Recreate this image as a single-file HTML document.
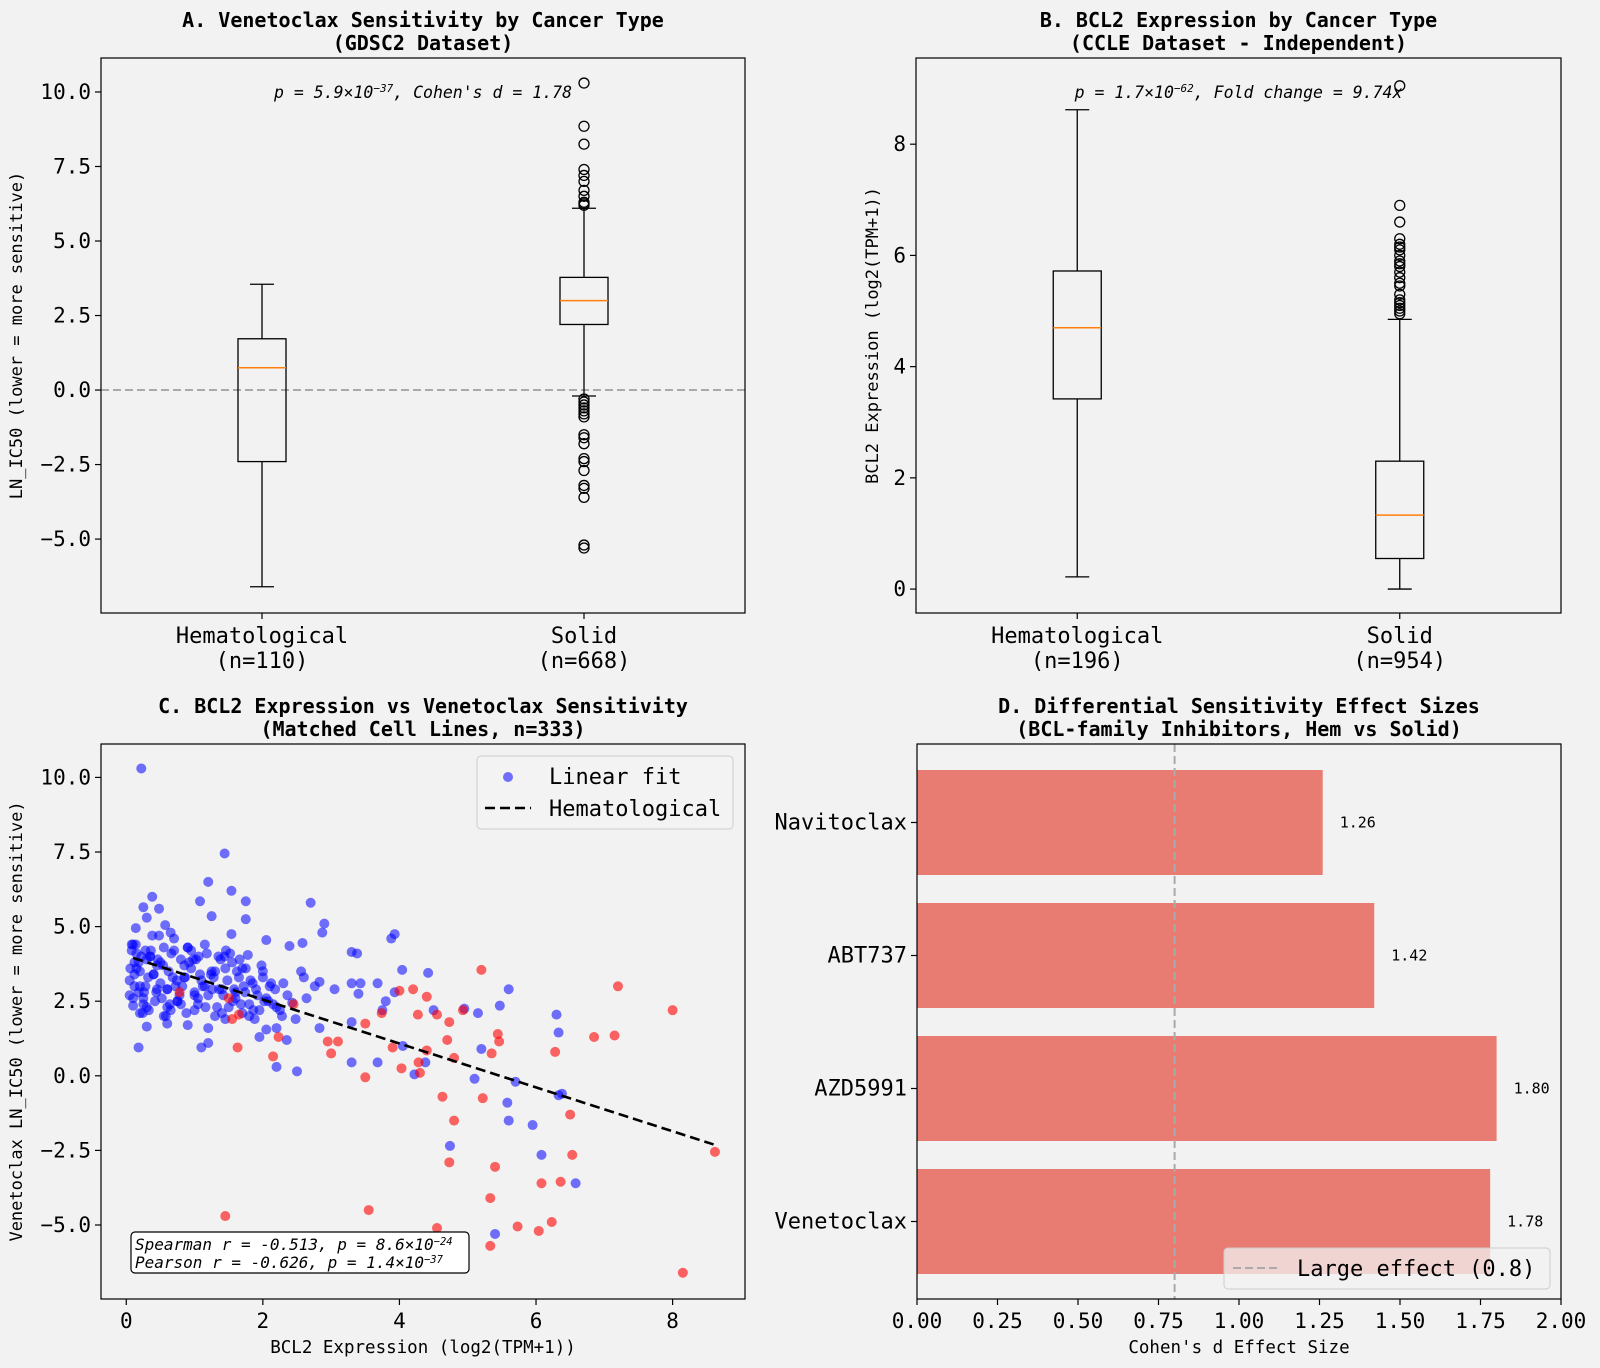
<!DOCTYPE html>
<html><head><meta charset="utf-8">
<style>
html,body{margin:0;padding:0;background:#f2f2f2;}
svg{display:block;font-family:"DejaVu Sans Mono","Liberation Mono",monospace;}
</style></head>
<body>
<svg id="fig" width="1600" height="1368" viewBox="0 0 1600 1368" xmlns="http://www.w3.org/2000/svg">
<rect width="1600" height="1368" fill="#f2f2f2"/>
<g id="pA"></g>
<g id="pB"></g>
<g id="pC"></g>
<g id="pD"></g>
</svg>
<script>
// ---------- DATA ----------
const boxCatsA = ["Hematological", "Solid"];
const boxNA = ["(n=110)", "(n=668)"];
const boxStatsA = [[-6.6, -2.4, 0.75, 1.72, 3.55], [-0.2, 2.2, 3.0, 3.78, 6.1]];
const outliersA = [[], [6.2, 6.25, 6.3, 6.5, 6.7, 7.0, 7.2, 7.4, 8.25, 8.85, 10.3, -0.3, -0.4, -0.5, -0.6, -0.7, -0.8, -0.9, -1.5, -1.6, -1.8, -2.3, -2.4, -2.7, -3.2, -3.3, -3.6, -5.2, -5.3]];
const yTicksA = [-5.0, -2.5, 0.0, 2.5, 5.0, 7.5, 10.0];

const boxCatsB = ["Hematological", "Solid"];
const boxNB = ["(n=196)", "(n=954)"];
const boxStatsB = [[0.22, 3.42, 4.7, 5.72, 8.62], [0.0, 0.55, 1.33, 2.3, 4.85]];
const outliersB = [[], [4.95, 5.0, 5.05, 5.1, 5.15, 5.2, 5.3, 5.45, 5.5, 5.6, 5.7, 5.8, 5.85, 5.9, 6.0, 6.1, 6.15, 6.2, 6.3, 6.6, 6.9, 9.05]];
const yTicksB = [0, 2, 4, 6, 8];

const blueX = [0.22,1.44,1.2,1.54,0.38,1.08,1.75,2.7,0.25,0.48,1.25,0.3,1.75,2.9,0.14,0.57,2.87,3.93,3.88,1.54,2.05,2.39,2.58,0.38,1.78,3.3,3.38,4.04,4.42,2.6,2.83,3.3,3.43,3.68,3.05,3.4,3.93,3.8,3.75,4.5,4.95,5.15,5.47,5.6,6.3,6.33,5.2,5.7,5.1,5.58,5.6,5.95,6.38,6.33,4.74,6.08,6.58,5.4,4.38,4.22,4.05,3.68,3.3,3.3,2.83,2.5,2.2,2.35,2.2,2.05,1.95,1.2,1.1,0.18,0.3,0.9,1.2,0.6,2.48,2.43,2.25,
0.05,0.08,0.1,0.12,0.15,0.18,0.2,0.22,0.25,0.28,0.3,0.33,0.35,0.4,0.42,0.45,0.5,0.52,0.55,0.6,0.62,0.65,0.7,0.72,0.75,0.8,0.85,0.88,0.9,0.95,1.0,1.02,1.05,1.1,1.15,1.2,1.25,1.3,1.35,1.4,1.45,1.5,1.55,1.6,1.65,1.7,1.75,1.8,1.85,1.9,1.95,2.0,2.05,2.1,2.15,0.1,0.15,0.2,0.3,0.35,0.45,0.5,0.55,0.65,0.7,0.78,0.82,0.9,0.98,1.05,1.12,1.18,1.28,1.33,1.38,1.42,1.48,1.52,1.58,1.62,1.68,1.72,1.82,1.88,1.92,2.02,2.12,2.2,2.3,0.08,0.12,0.18,0.25,0.4,0.48,0.58,0.68,0.75,0.85,0.95,1.0,1.15,1.3,1.45,1.6,1.8,2.0,0.05,0.28,0.6,1.08,1.4,
0.06,0.1,0.14,0.2,0.24,0.32,0.36,0.44,0.54,0.6,0.66,0.74,0.8,0.92,1.0,1.06,1.16,1.24,1.36,1.44,1.56,1.66,1.74,1.86,1.98,2.08,2.18,2.28,2.36,2.56,2.64,2.76,0.12,0.26,0.46,0.64,0.86,1.26,1.46,1.7];
const blueY = [10.3,7.45,6.5,6.2,6.0,5.85,5.85,5.8,5.65,5.6,5.35,5.3,5.25,5.1,4.95,5.05,4.8,4.75,4.6,4.75,4.55,4.35,4.45,4.7,4.05,4.15,4.1,3.55,3.45,3.3,3.15,3.1,3.1,3.1,2.9,2.75,2.8,2.5,2.2,2.2,2.25,2.1,2.35,2.9,2.05,1.45,0.9,-0.2,-0.1,-0.9,-1.5,-1.65,-0.6,-0.65,-2.35,-2.65,-3.6,-5.3,0.45,0.05,1.0,0.45,0.45,1.8,1.6,0.15,0.3,1.2,1.6,1.55,1.3,1.1,0.95,0.95,1.65,1.7,1.6,1.75,1.9,2.45,2.2,
3.2,4.2,2.35,3.8,4.1,2.8,3.5,4.0,2.4,3.0,3.9,2.2,4.0,3.4,2.5,3.7,3.1,2.6,4.3,2.9,3.5,2.2,4.6,3.0,2.5,3.9,3.3,2.1,4.3,3.6,2.8,3.9,2.4,3.2,4.4,2.7,3.5,2.0,4.0,2.9,3.6,2.3,3.8,2.6,3.3,2.1,3.6,2.4,3.1,2.9,2.2,3.5,2.6,3.0,2.4,4.4,3.6,2.1,2.3,4.0,2.9,3.8,2.0,4.8,4.2,2.7,3.0,4.3,3.9,2.6,3.0,4.1,3.3,2.3,3.9,2.7,3.2,4.1,2.9,3.5,2.4,3.0,3.2,1.9,2.7,2.5,3.1,2.3,3.1,4.4,3.0,3.8,2.6,3.4,4.7,2.0,3.3,2.5,3.7,4.2,2.2,3.0,3.5,1.9,2.8,2.0,3.3,2.7,4.2,2.9,3.4,2.1,
3.6,2.6,4.4,3.0,2.1,3.3,4.2,2.8,3.7,2.3,4.1,3.2,2.4,3.8,2.7,4.0,2.3,3.4,2.9,4.0,2.5,3.9,2.8,2.2,3.7,2.5,2.9,2.0,2.7,3.5,2.6,3.0,3.4,2.8,3.9,2.4,3.3,2.9,4.2,3.6];
const redX = [0.78,1.45,1.5,1.55,1.65,1.63,2.15,2.23,2.45,2.95,3.1,3.0,3.55,3.5,3.5,3.74,3.9,4.0,4.03,4.2,4.27,4.28,4.3,4.4,4.4,4.55,4.63,4.7,4.73,4.73,4.8,4.8,4.93,4.55,4.65,5.2,5.22,5.33,5.33,5.35,5.4,5.44,5.46,5.73,6.04,6.08,6.23,6.28,6.36,6.5,6.53,6.85,7.15,7.2,8.0,8.15,8.62];
const redY = [2.8,-4.7,2.6,1.9,2.05,0.95,0.65,1.3,2.4,1.15,1.15,0.75,-4.5,-0.05,1.75,2.1,0.95,2.85,0.25,2.9,2.05,0.45,0.1,2.65,0.85,2.05,-0.7,1.2,1.8,-2.9,-1.5,0.6,2.2,-5.1,-6.3,3.55,-0.75,-4.1,-5.7,0.75,-3.05,1.4,1.15,-5.05,-5.2,-3.6,-4.9,0.8,-3.55,-1.3,-2.65,1.3,1.35,3.0,2.2,-6.6,-2.55];
const fitX = [0.1, 8.6];
const fitY = [3.95, -2.3];
const xTicksC = [0, 2, 4, 6, 8];
const yTicksC = [-5.0, -2.5, 0.0, 2.5, 5.0, 7.5, 10.0];

const drugs = ["Navitoclax", "ABT737", "AZD5991", "Venetoclax"];
const effect = [1.26, 1.42, 1.80, 1.78];
const xTicksD = [0.00, 0.25, 0.50, 0.75, 1.00, 1.25, 1.50, 1.75, 2.00];
const largeEffect = 0.8;

// ---------- HELPERS ----------
const NS = "http://www.w3.org/2000/svg";
function mk(parent, tag, attrs, text) {
  const e = document.createElementNS(NS, tag);
  for (const k in attrs) e.setAttribute(k, attrs[k]);
  if (text !== undefined) e.textContent = text;
  parent.appendChild(e);
  return e;
}
function lin(d0, d1, r0, r1) { return v => r0 + (v - d0) * (r1 - r0) / (d1 - d0); }
const TF = 20;

// ---------- BOX PANELS ----------
function boxPanel(g, L, R, T, B, ymin, ymax, cats, ns, stats, outs, ticks, fmt, title1, title2, ylabel, ylabX, annot, annotSup, annotRest, zeroLine) {
  const y = lin(ymin, ymax, B, T);
  const x = lin(0.5, 2.5, L, R);
  let t = mk(g, "text", {x:(L+R)/2, y:27, "text-anchor":"middle", "font-size":TF, "font-weight":"bold", fill:"#000"}, title1);
  
  
  t = mk(g, "text", {x:(L+R)/2, y:50, "text-anchor":"middle", "font-size":TF, "font-weight":"bold", fill:"#000"}, title2);
  
  
  if (zeroLine) {
    const z = mk(g, "line", {x1:L, x2:R, y1:y(0), y2:y(0), stroke:"#aaaaaa", "stroke-width":2, "stroke-dasharray":"8,4"});
    
    
  }
  const bw = 48;
  stats.forEach((s, i) => {
    const cx = x(i + 1);
    const bg = mk(g, "g", {});
    
    
    mk(bg, "line", {x1:cx, x2:cx, y1:y(s[0]), y2:y(s[1]), stroke:"#000", "stroke-width":1.3});
    mk(bg, "line", {x1:cx, x2:cx, y1:y(s[3]), y2:y(s[4]), stroke:"#000", "stroke-width":1.3});
    mk(bg, "line", {x1:cx-bw/4, x2:cx+bw/4, y1:y(s[0]), y2:y(s[0]), stroke:"#000", "stroke-width":1.3});
    mk(bg, "line", {x1:cx-bw/4, x2:cx+bw/4, y1:y(s[4]), y2:y(s[4]), stroke:"#000", "stroke-width":1.3});
    mk(bg, "rect", {x:cx-bw/2, y:y(s[3]), width:bw, height:y(s[1])-y(s[3]), fill:"none", stroke:"#000", "stroke-width":1.3});
    mk(bg, "line", {x1:cx-bw/2, x2:cx+bw/2, y1:y(s[2]), y2:y(s[2]), stroke:"#ff7f0e", "stroke-width":1.5});
    outs[i].forEach(o => {
      const c = mk(bg, "circle", {cx:cx, cy:y(o), r:5, fill:"none", stroke:"#000", "stroke-width":1.3});
      
      
    });
    mk(g, "line", {x1:cx, x2:cx, y1:B, y2:B+6, stroke:"#000", "stroke-width":1.2});
    const tl = mk(g, "text", {x:cx, y:B+30, "text-anchor":"middle", "font-size":22, fill:"#000"}, cats[i]);
    
    
    const tn = mk(g, "text", {x:cx, y:B+55, "text-anchor":"middle", "font-size":22, fill:"#000"}, ns[i]);
    
    
  });
  ticks.forEach(v => {
    mk(g, "line", {x1:L-6, x2:L, y1:y(v), y2:y(v), stroke:"#000", "stroke-width":1.2});
    const tl = mk(g, "text", {x:L-10, y:y(v)+7, "text-anchor":"end", "font-size":21, fill:"#000"}, fmt(v).replace("-", "\u2212"));
    
    
  });
  const fr = mk(g, "rect", {x:L, y:T, width:R-L, height:B-T, fill:"none", stroke:"#000", "stroke-width":1.2});
  
  
  const yl = mk(g, "text", {x:ylabX, y:(T+B)/2, "text-anchor":"middle", "font-size":17, fill:"#000", transform:"rotate(-90 " + ylabX + " " + (T+B)/2 + ")"}, ylabel);
  
  
  const an = mk(g, "text", {x:(L+R)/2, y:98, "text-anchor":"middle", "font-size":16.5, "font-style":"italic", fill:"#000"});
  
  
  mk(an, "tspan", {}, annot);
  mk(an, "tspan", {"font-size":11, dy:-6}, annotSup);
  mk(an, "tspan", {dy:6}, annotRest);
}

boxPanel(document.getElementById("pA"), 101, 745, 58, 613, -7.48, 11.14, boxCatsA, boxNA, boxStatsA, outliersA, yTicksA, v => v.toFixed(1),
  "A. Venetoclax Sensitivity by Cancer Type", "(GDSC2 Dataset)", "LN_IC50 (lower = more sensitive)", 22,
  "p = 5.9×10", "−37", ", Cohen's d = 1.78", true);
boxPanel(document.getElementById("pB"), 916, 1561, 58, 613, -0.43, 9.55, boxCatsB, boxNB, boxStatsB, outliersB, yTicksB, v => String(v),
  "B. BCL2 Expression by Cancer Type", "(CCLE Dataset - Independent)", "BCL2 Expression (log2(TPM+1))", 878,
  "p = 1.7×10", "−62", ", Fold change = 9.74x", false);

// ---------- SCATTER PANEL C ----------
(function(){
  const g = document.getElementById("pC");
  const L = 101, R = 745, T = 744, B = 1299;
  const x = lin(-0.37, 9.06, L, R);
  const y = lin(-7.48, 11.12, B, T);
  let t = mk(g, "text", {x:(L+R)/2, y:713, "text-anchor":"middle", "font-size":TF, "font-weight":"bold"}, "C. BCL2 Expression vs Venetoclax Sensitivity");
  
  
  t = mk(g, "text", {x:(L+R)/2, y:736, "text-anchor":"middle", "font-size":TF, "font-weight":"bold"}, "(Matched Cell Lines, n=333)");
  
  
  const pts = mk(g, "g", {});
  
  
  blueX.forEach((v, i) => {
    const c = mk(pts, "circle", {cx:x(v), cy:y(blueY[i]), r:5, fill:"rgba(0,0,255,0.55)"});
    
    
  });
  redX.forEach((v, i) => {
    const c = mk(pts, "circle", {cx:x(v), cy:y(redY[i]), r:5, fill:"rgba(255,0,0,0.6)"});
    
    
  });
  const fl = mk(g, "line", {x1:x(fitX[0]), y1:y(fitY[0]), x2:x(fitX[1]), y2:y(fitY[1]), stroke:"#000", "stroke-width":2.6, "stroke-dasharray":"10,5"});
  
  
  xTicksC.forEach(v => {
    mk(g, "line", {x1:x(v), x2:x(v), y1:B, y2:B+6, stroke:"#000", "stroke-width":1.2});
    const tl = mk(g, "text", {x:x(v), y:B+29, "text-anchor":"middle", "font-size":21}, String(v));
    
    
  });
  yTicksC.forEach(v => {
    mk(g, "line", {x1:L-6, x2:L, y1:y(v), y2:y(v), stroke:"#000", "stroke-width":1.2});
    const tl = mk(g, "text", {x:L-10, y:y(v)+7, "text-anchor":"end", "font-size":21}, v.toFixed(1).replace("-", "\u2212"));
    
    
  });
  const fr = mk(g, "rect", {x:L, y:T, width:R-L, height:B-T, fill:"none", stroke:"#000", "stroke-width":1.2});
  
  
  const xl = mk(g, "text", {x:(L+R)/2, y:1353, "text-anchor":"middle", "font-size":17.5}, "BCL2 Expression (log2(TPM+1))");
  
  
  const yl = mk(g, "text", {x:22, y:(T+B)/2, "text-anchor":"middle", "font-size":17, transform:"rotate(-90 22 " + (T+B)/2 + ")"}, "Venetoclax LN_IC50 (lower = more sensitive)");
  
  
  const lg = mk(g, "g", {});
  
  
  mk(lg, "rect", {x:477, y:756, width:256, height:73, rx:4, fill:"rgba(242,242,242,0.8)", stroke:"#cccccc", "stroke-width":1});
  mk(lg, "circle", {cx:508, cy:777, r:5, fill:"rgba(0,0,255,0.55)"});
  mk(lg, "text", {x:549, y:784, "font-size":22}, "Linear fit");
  mk(lg, "line", {x1:485, x2:531, y1:808, y2:808, stroke:"#000", "stroke-width":2.6, "stroke-dasharray":"10,5"});
  mk(lg, "text", {x:549, y:816, "font-size":22}, "Hematological");
  const sb = mk(g, "g", {});
  
  
  mk(sb, "rect", {x:131, y:1232, width:338, height:41, rx:4, fill:"#fff", stroke:"#000", "stroke-width":1.2});
  let s1 = mk(sb, "text", {x:135, y:1250, "font-size":16, "font-style":"italic"});
  mk(s1, "tspan", {}, "Spearman r = -0.513, p = 8.6×10");
  mk(s1, "tspan", {"font-size":10.5, dy:-5}, "−24");
  let s2 = mk(sb, "text", {x:135, y:1268, "font-size":16, "font-style":"italic"});
  mk(s2, "tspan", {}, "Pearson r = -0.626, p = 1.4×10");
  mk(s2, "tspan", {"font-size":10.5, dy:-5}, "−37");
})();

// ---------- BAR PANEL D ----------
(function(){
  const g = document.getElementById("pD");
  const L = 917, R = 1561, T = 744, B = 1299;
  const x = lin(0, 2, L, R);
  let t = mk(g, "text", {x:(L+R)/2, y:713, "text-anchor":"middle", "font-size":TF, "font-weight":"bold"}, "D. Differential Sensitivity Effect Sizes");
  
  
  t = mk(g, "text", {x:(L+R)/2, y:736, "text-anchor":"middle", "font-size":TF, "font-weight":"bold"}, "(BCL-family Inhibitors, Hem vs Solid)");
  
  
  drugs.forEach((d, i) => {
    const cy = T + 26 + 52.5 + i * 133;
    const r = mk(g, "rect", {x:x(0), y:cy-52.5, width:x(effect[i])-x(0), height:105, fill:"#e97c72"});
    
    
    const v = mk(g, "text", {x:x(effect[i])+17, y:cy+5, "font-size":15}, effect[i].toFixed(2));
    
    
    mk(g, "line", {x1:L-6, x2:L, y1:cy, y2:cy, stroke:"#000", "stroke-width":1.2});
    const tl = mk(g, "text", {x:L-10, y:cy+7, "text-anchor":"end", "font-size":22}, d);
    
    
  });
  const rl = mk(g, "line", {x1:x(largeEffect), x2:x(largeEffect), y1:T, y2:B, stroke:"#aaaaaa", "stroke-width":2, "stroke-dasharray":"8,4"});
  
  
  xTicksD.forEach(v => {
    mk(g, "line", {x1:x(v), x2:x(v), y1:B, y2:B+6, stroke:"#000", "stroke-width":1.2});
    const tl = mk(g, "text", {x:x(v), y:B+29, "text-anchor":"middle", "font-size":21}, v.toFixed(2));
    
    
  });
  const fr = mk(g, "rect", {x:L, y:T, width:R-L, height:B-T, fill:"none", stroke:"#000", "stroke-width":1.2});
  
  
  const xl = mk(g, "text", {x:(L+R)/2, y:1353, "text-anchor":"middle", "font-size":17.5}, "Cohen's d Effect Size");
  
  
  const lg = mk(g, "g", {});
  
  
  mk(lg, "rect", {x:1224, y:1248, width:326, height:41, rx:4, fill:"rgba(242,242,242,0.75)", stroke:"#cccccc", "stroke-width":1});
  mk(lg, "line", {x1:1233, x2:1279, y1:1268, y2:1268, stroke:"#aaaaaa", "stroke-width":2, "stroke-dasharray":"8,4"});
  mk(lg, "text", {x:1297, y:1276, "font-size":22}, "Large effect (0.8)");
})();
</script>
</body></html>
